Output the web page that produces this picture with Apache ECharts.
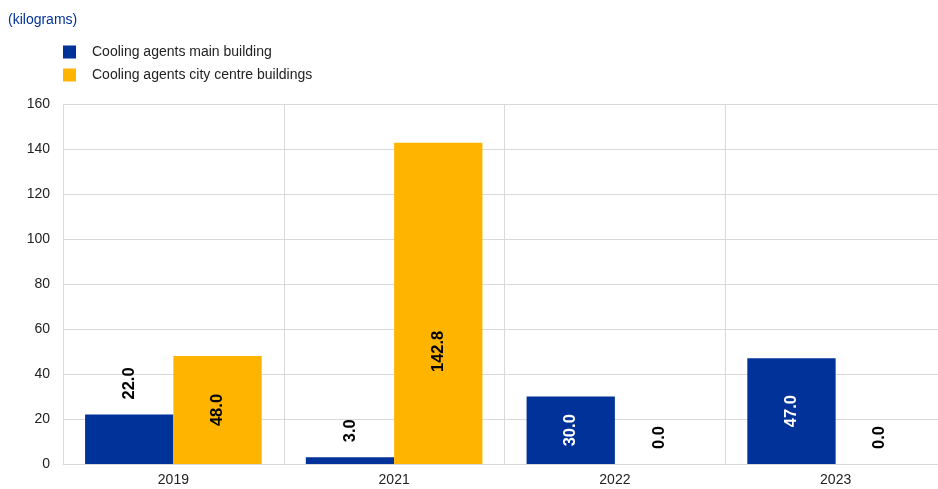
<!DOCTYPE html>
<html><head><meta charset="utf-8">
<script src="https://cdn.jsdelivr.net/npm/echarts@6/dist/echarts.min.js"></script>
<style>html,body{margin:0;padding:0;background:#fff}#c{width:938px;height:489px}</style>
</head><body><div id="c"></div>
<script>
const categories = ['2019', '2021', '2022', '2023'];
const mainBuilding = [22.0, 3.0, 30.0, 47.0];
const cityCentre = [48.0, 142.8, 0.0, 0.0];
const seriesNames = ['Cooling agents main building', 'Cooling agents city centre buildings'];
const colors = ['#003299', '#FFB400'];

const font = 'Arial, "Liberation Sans", sans-serif';
function mkData(vals, insideColor) {
  return vals.map(v => {
    const inside = v >= 30;
    const label = inside
      ? { position: 'inside', align: 'center', verticalAlign: 'middle', color: insideColor }
      : { position: 'top', align: 'left', verticalAlign: 'middle', distance: 15, color: '#000' };
    if (v > 100) label.offset = [-48, 0];
    return { value: v, label };
  });
}
const chart = echarts.init(document.getElementById('c'));
const lbl = {
  show: true, rotate: 90, fontSize: 16.5, fontWeight: 'bold', fontFamily: font,
  formatter: p => p.value.toFixed(1)
};
chart.setOption({
  animation: false,
  title: { text: '(kilograms)', left: 3, top: 8, textStyle: { color: '#003299', fontSize: 14, fontWeight: 'normal', fontFamily: font } },
  legend: {
    orient: 'vertical', left: 63, top: 45, padding: 0, itemWidth: 13, itemHeight: 13, itemGap: 9,
    icon: 'rect',
    textStyle: { fontSize: 14, color: '#222', fontFamily: font, padding: [0, 0, 0, 11] },
    data: seriesNames
  },
  grid: { left: 63, width: 883, top: 104, bottom: 25, containLabel: false, outerBoundsMode: 'none' },
  xAxis: {
    type: 'category', data: categories,
    axisLine: { lineStyle: { color: '#d9d9d9', width: 1 } },
    axisTick: { show: false },
    axisLabel: { fontSize: 14, color: '#222', fontFamily: font, margin: 9 },
    splitLine: { show: true, lineStyle: { color: '#d9d9d9', width: 1 } }
  },
  yAxis: {
    type: 'value', min: 0, max: 160, interval: 20,
    axisLine: { show: false }, axisTick: { show: false },
    axisLabel: { fontSize: 14, color: '#222', fontFamily: font, margin: 13 },
    splitLine: { lineStyle: { color: '#d9d9d9', width: 1 } }
  },
  series: [
    { name: seriesNames[0], type: 'bar', data: mkData(mainBuilding, '#fff'), itemStyle: { color: colors[0] }, barGap: '0%', barCategoryGap: '20%', label: lbl },
    { name: seriesNames[1], type: 'bar', data: mkData(cityCentre, '#000'), itemStyle: { color: colors[1] }, barGap: '0%', barCategoryGap: '20%', label: lbl }
  ]
});
</script></body></html>
